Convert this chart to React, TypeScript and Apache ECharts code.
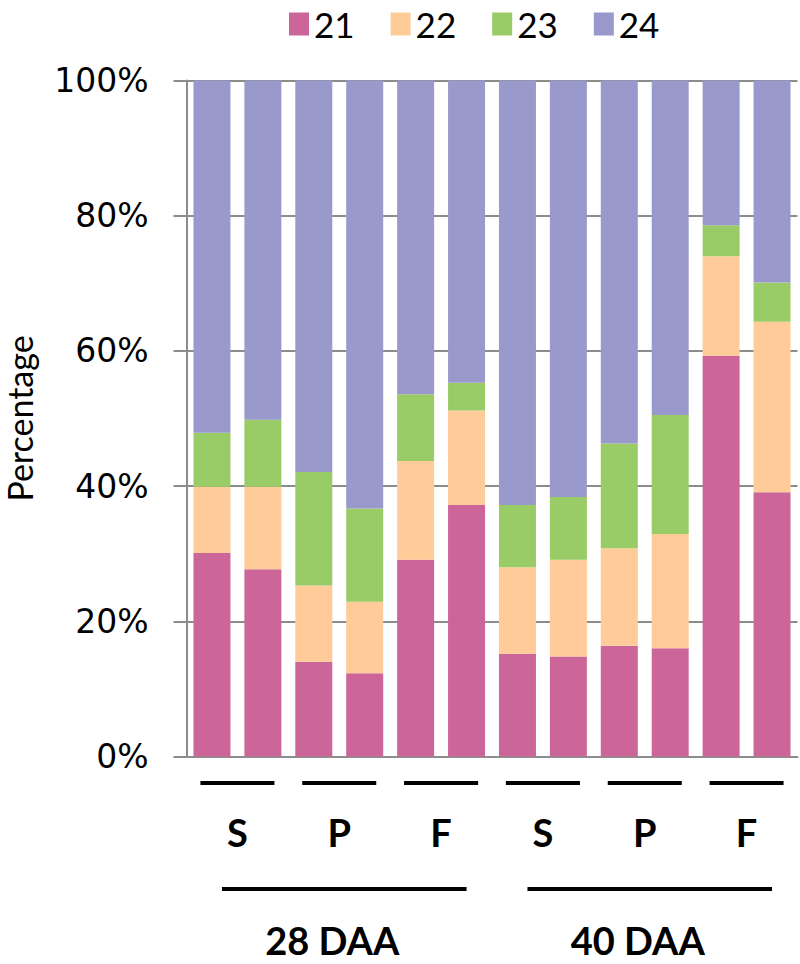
import React, { useEffect, useRef } from "react";
import * as echarts from "echarts";

const categories = ["28S-a", "28S-b", "28P-a", "28P-b", "28F-a", "28F-b", "40S-a", "40S-b", "40P-a", "40P-b", "40F-a", "40F-b"];
const seriesNames = ["21", "22", "23", "24"];
const s21 = [30.1, 27.7, 14.0, 12.3, 29.1, 37.2, 15.2, 14.8, 16.4, 16.0, 59.3, 39.1];
const s22 = [9.8, 12.2, 11.3, 10.6, 14.6, 14.0, 12.8, 14.3, 14.4, 16.9, 14.7, 25.2];
const s23 = [8.0, 9.9, 16.8, 13.8, 9.9, 4.1, 9.2, 9.3, 15.5, 17.6, 4.6, 5.8];
const s24 = [52.1, 50.2, 57.9, 63.3, 46.4, 44.7, 62.8, 61.6, 53.7, 49.5, 21.4, 29.9];
const groupLabels = ["S", "P", "F", "S", "P", "F"];
const stageLabels = ["28 DAA", "40 DAA"];
const colors = ["#CC6699", "#FFCC99", "#99CC66", "#9999CC"];

export default function App() {
  const ref = useRef<HTMLDivElement>(null);
  useEffect(() => {
    document.body.style.margin = "0";
    const chart = echarts.init(ref.current!, null, { renderer: "svg" });
    const data = [s21, s22, s23, s24];
    chart.setOption({
      animation: false,
      color: colors,
      legend: {
        data: seriesNames,
        left: 284,
        top: 1,
        itemWidth: 20,
        itemHeight: 23,
        itemGap: 36,
        icon: "rect",
        textStyle: { fontFamily: "Lato", fontSize: 35, lineHeight: 36, color: "#000" },
      },
      grid: { left: 186.5, right: 2.5, top: 80.5, bottom: 207.5, containLabel: false, outerBoundsMode: "none" },
      xAxis: {
        type: "category",
        data: categories,
        axisLine: { lineStyle: { color: "#8c8c8c", width: 2 } },
        axisTick: { show: false },
        axisLabel: { show: false },
      },
      yAxis: {
        type: "value",
        min: 0,
        max: 100,
        interval: 20,
        name: "Percentage",
        nameLocation: "middle",
        nameGap: 150,
        nameTextStyle: { fontFamily: "Lato", fontSize: 34, lineHeight: 34, color: "#000" },
        axisLine: { show: true, lineStyle: { color: "#8c8c8c", width: 2 } },
        axisTick: { show: true, length: 13, lineStyle: { color: "#8c8c8c", width: 2 } },
        axisLabel: { formatter: "{value}%", margin: 38, fontFamily: "DejaVu Sans", fontSize: 33, color: "#000" },
        splitLine: { lineStyle: { color: "#8c8c8c", width: 2 } },
      },
      series: seriesNames.map((n, i) => ({
        name: n,
        type: "bar",
        stack: "total",
        data: data[i],
        barWidth: 37,
        itemStyle: { color: colors[i] },
      })),
    });

    const px = (i: number) => chart.convertToPixel({ xAxisIndex: 0 }, categories[i]) as number;
    const graphics: any[] = [];
    groupLabels.forEach((lab, g) => {
      const c = (px(2 * g) + px(2 * g + 1)) / 2;
      graphics.push({
        type: "line",
        shape: { x1: c - 37, y1: 783, x2: c + 37, y2: 783 },
        style: { stroke: "#000", lineWidth: 4 },
      });
      graphics.push({
        type: "text",
        x: c,
        y: 832,
        style: { text: lab, fontFamily: "Lato", fontWeight: "bold", fontSize: 38, fill: "#000", align: "center", verticalAlign: "middle" },
      });
    });
    stageLabels.forEach((lab, s) => {
      const a = px(6 * s) + 10;
      const b = px(6 * s + 5);
      graphics.push({
        type: "line",
        shape: { x1: a, y1: 889, x2: b, y2: 889 },
        style: { stroke: "#000", lineWidth: 4 },
      });
      graphics.push({
        type: "text",
        x: (a + b) / 2 - 12,
        y: 940,
        style: { text: lab, fontFamily: "Lato", fontWeight: "bold", fontSize: 38, fill: "#000", align: "center", verticalAlign: "middle" },
      });
    });
    chart.setOption({ graphic: graphics });
    return () => chart.dispose();
  }, []);
  return <div ref={ref} style={{ width: 800, height: 964 }} />;
}
